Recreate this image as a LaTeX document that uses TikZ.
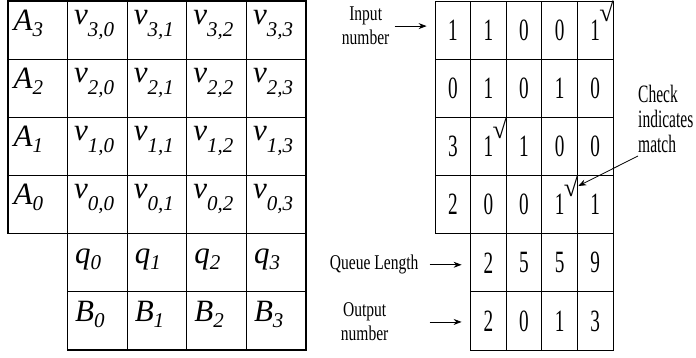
\documentclass[tikz,border=0pt]{standalone}
\usepackage{fontspec}
\setmainfont{Liberation Serif}
\newfontfamily\narrowfont[FakeStretch=0.74]{Liberation Serif}
\newfontfamily\slimfont[FakeStretch=0.62]{Liberation Serif}
\usetikzlibrary{positioning, arrows.meta}
\newcommand{\idx}[3][0pt]{\raisebox{#1}{#2}\raisebox{-6pt}{\fontsize{21}{21}\selectfont #3}}

\begin{document}
\begin{tikzpicture}[
                x=1pt, y=-1pt,
                bigcell/.style={draw=black, line width=1.2pt, minimum width=59.6pt, minimum height=58.17pt, inner sep=0pt},
                entry/.style={anchor=base west, inner sep=0pt, font=\itshape\fontsize{31}{31}\selectfont},
                digit/.style={draw=black, line width=0.8pt, minimum width=35.6pt, minimum height=58.17pt, inner sep=0pt, font=\slimfont\fontsize{31}{31}\selectfont},
                tick/.style={anchor=south west, inner sep=0pt, font=\fontsize{26}{26}\selectfont},
                note/.style={align=center, inner sep=0pt, font=\narrowfont\fontsize{21}{24}\selectfont},
                pointer/.style={-{Stealth[length=8pt, width=6pt]}, line width=0.8pt}
            ]
            \useasboundingbox (0,0) rectangle (696,358);

            \foreach \r/\a in {0/3,1/2,2/1,3/0} {
                \node[bigcell] (a\a) at (37.8,30.1+58.17*\r) {};
                \node[entry] (ta\a) at ([shift={(6pt,-30pt)}]a\a.north west) {\idx{A}{\a}};
                \foreach \c in {0,...,3} {
                    \node[bigcell] (v\a\c) at (97.4+59.6*\c,30.1+58.17*\r) {};
                    \node[entry] (tv\a\c) at ([shift={(7pt,-30pt)}]v\a\c.north west) {\idx[6pt]{v}{\a,\c}};
                }
            }
            \foreach \c in {0,...,3} {
                \node[bigcell] (q\c) at (97.4+59.6*\c,30.1+58.17*4) {};
                \node[entry] (tq\c) at ([shift={(8pt,-30pt)}]q\c.north west) {\idx{q}{\c}};
                \node[bigcell] (b\c) at (97.4+59.6*\c,30.1+58.17*5) {};
                \node[entry] (tb\c) at ([shift={(8pt,-30pt)}]b\c.north west) {\idx{B}{\c}};
            }

            \foreach \r/\vals in {0/{1,1,0,0,1},1/{0,1,0,1,0},2/{3,1,1,0,0},3/{2,0,0,1,1}} {
                \foreach \d [count=\c from 0] in \vals
                    \node[digit] (n\r\c) at (452.8+35.6*\c,30.1+58.17*\r) {\d};
            }
            \foreach \r/\vals in {4/{2,5,5,9},5/{2,0,1,3}} {
                \foreach \d [count=\c from 1] in \vals
                    \node[digit] (n\r\c) at (452.8+35.6*\c,30.1+58.17*\r) {\d};
            }
            \foreach \k in {04,21,33}
                \node[tick] (chk\k) at ([shift={(4pt,8pt)}]n\k.center) {√};

            \coordinate (inTip) at ([shift={(-8pt,4pt)}]n00.west);
            \coordinate[left=32pt of inTip] (inTail);
            \node[note, left=5pt of inTail] (inlbl) {Input\\number};
            \draw[pointer] (inTail) -- (inTip);

            \coordinate (qTip) at ([shift={(-8.6pt,-2pt)}]n41.west);
            \coordinate[left=32pt of qTip] (qTail);
            \node[note, left=11pt of qTail] (qlbl) {Queue Length};
            \draw[pointer] (qTail) -- (qTip);

            \coordinate (outTip) at ([shift={(-8.6pt,-1pt)}]n51.west);
            \coordinate[left=32pt of outTip] (outTail);
            \node[note, left=41pt of outTail] (outlbl) {Output\\number};
            \draw[pointer] (outTail) -- (outTip);

            \node[note, align=left, anchor=north west, font=\slimfont\fontsize{25}{25}\selectfont] (chklbl) at (638,85) {Check\\indicates\\match};
            \draw[pointer] ([yshift=-3pt]chklbl.south west) -- (chk33.east);
        \end{tikzpicture}
\end{document}
